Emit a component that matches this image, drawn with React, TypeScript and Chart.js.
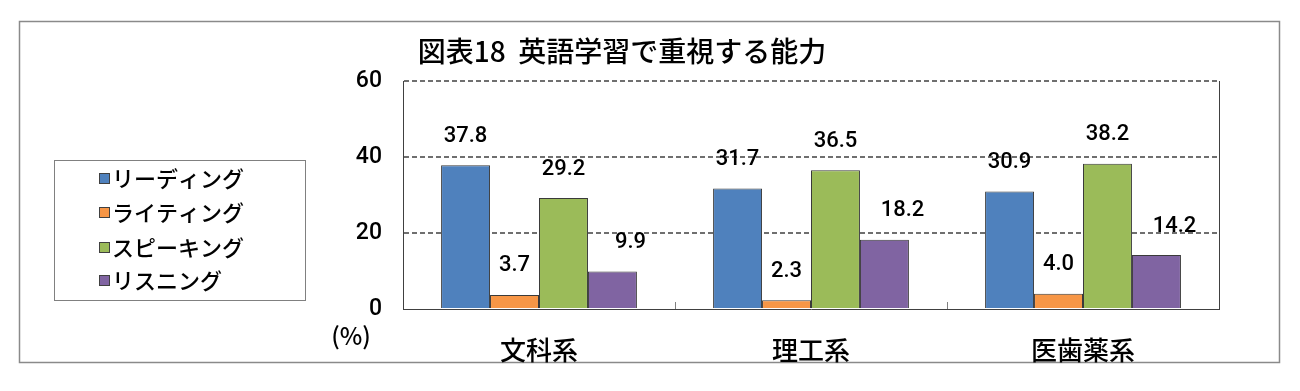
import React, { useEffect, useRef } from "react";
import { Chart, registerables } from "chart.js";

Chart.register(...registerables);

const titleText = "図表18  英語学習で重視する能力";
const categories = ["文科系", "理工系", "医歯薬系"];
const seriesNames = ["リーディング", "ライティング", "スピーキング", "リスニング"];
const reading = [37.8, 31.7, 30.9];
const writing = [3.7, 2.3, 4.0];
const speaking = [29.2, 36.5, 38.2];
const listening = [9.9, 18.2, 14.2];
const yTickValues = [0, 20, 40, 60];
const unitLabel = "(%)";

const seriesValues = [reading, writing, speaking, listening];
const seriesColors = ["#4F81BD", "#F79646", "#9BBB59", "#8064A2"];
const labelShiftX = [0, 0, 0, 18];

const JP = '"Noto Sans CJK JP", "Noto Sans", sans-serif';
const NUM = 'Roboto, "Liberation Sans", sans-serif';

const decorPlugin = {
  id: "decor",
  beforeDraw(chart: any) {
    const ctx = chart.ctx;
    ctx.save();
    ctx.fillStyle = "#ffffff";
    ctx.fillRect(0, 0, chart.width, chart.height);
    ctx.strokeStyle = "#8a8a8a";
    ctx.lineWidth = 1.5;
    ctx.strokeRect(19.5, 21.5, 1260, 341);
    ctx.restore();
  },
  afterDraw(chart: any) {
    const ctx = chart.ctx;
    const area = chart.chartArea;
    const xScale = chart.scales.x;
    ctx.save();
    // right border of plot
    ctx.strokeStyle = "#404040";
    ctx.lineWidth = 1;
    ctx.beginPath();
    ctx.moveTo(Math.round(area.right) + 0.5, area.top);
    ctx.lineTo(Math.round(area.right) + 0.5, area.bottom);
    ctx.stroke();
    // category boundary ticks (inside)
    const n = chart.data.labels.length;
    for (let i = 1; i < n; i++) {
      const xp = Math.round((xScale.getPixelForValue(i - 1) + xScale.getPixelForValue(i)) / 2) + 0.5;
      ctx.beginPath();
      ctx.moveTo(xp, area.bottom);
      ctx.lineTo(xp, area.bottom - 7);
      ctx.strokeStyle = "#808080";
      ctx.stroke();
    }
    // title
    ctx.fillStyle = "#000000";
    ctx.font = `500 28px ${JP}`;
    ctx.textAlign = "center";
    ctx.textBaseline = "middle";
    ctx.fillText(titleText, 622, 51);
    // unit label
    ctx.font = `500 24px ${JP}`;
    ctx.fillText(unitLabel, 351, 336);
    // data labels
    ctx.font = `500 22px ${NUM}`;
    chart.data.datasets.forEach((ds: any, di: number) => {
      const meta = chart.getDatasetMeta(di);
      meta.data.forEach((bar: any, i: number) => {
        const v = ds.data[i];
        ctx.fillText(v.toFixed(1), bar.x + labelShiftX[di], bar.y - 29);
      });
    });
    // legend
    ctx.strokeStyle = "#808080";
    ctx.lineWidth = 1;
    ctx.strokeRect(54.5, 160.5, 251, 140);
    const rows = [178, 212, 247, 280];
    ctx.textAlign = "left";
    ctx.font = `500 22px ${JP}`;
    chart.data.datasets.forEach((ds: any, di: number) => {
      const cy = rows[di];
      ctx.fillStyle = ds.backgroundColor;
      ctx.fillRect(99, cy - 5, 10, 10);
      ctx.strokeStyle = "#404040";
      ctx.strokeRect(99.5, cy - 4.5, 10, 10);
      ctx.fillStyle = "#000000";
      ctx.fillText(ds.label, 112, cy + 1);
    });
    ctx.restore();
  },
};

export default function App() {
  const canvasRef = useRef<HTMLCanvasElement | null>(null);

  useEffect(() => {
    const canvas = canvasRef.current;
    if (!canvas) return;
    const chart = new Chart(canvas, {
      type: "bar",
      data: {
        labels: categories,
        datasets: seriesNames.map((name, i) => ({
          label: name,
          data: seriesValues[i],
          backgroundColor: seriesColors[i],
          borderColor: "#3a3a3a",
          borderWidth: 1,
          barPercentage: 1,
          categoryPercentage: 0.72,
        })),
      },
      options: {
        responsive: false,
        animation: false,
        devicePixelRatio: 1,
        layout: { padding: { left: 300, right: 81, top: 81, bottom: 0 } },
        plugins: {
          legend: { display: false },
          title: { display: false },
          tooltip: { enabled: false },
        },
        scales: {
          x: {
            afterFit: (s: any) => {
              s.height = 82;
            },
            grid: { display: false },
            border: { display: true, color: "#404040", width: 1 },
            ticks: { color: "#000000", font: { family: JP, size: 26, weight: "500" }, padding: 18 },
          },
          y: {
            min: 0,
            max: 60,
            afterFit: (s: any) => {
              s.width = 103;
            },
            afterBuildTicks: (s: any) => {
              s.ticks = yTickValues.map((v) => ({ value: v }));
            },
            grid: {
              color: (c: any) => (c.tick && c.tick.value === 0 ? "rgba(0,0,0,0)" : "#6f6f6f"),
              lineWidth: 2,
              drawTicks: false,
            },
            border: { display: true, color: "#404040", width: 1, dash: [5, 3] },
            ticks: { color: "#000000", font: { family: NUM, size: 23, weight: "500" }, padding: 21 },
          },
        },
      },
      plugins: [decorPlugin],
    });
    return () => chart.destroy();
  }, []);

  return (
    <div style={{ position: "fixed", left: 0, top: 0, width: 1300, height: 391, background: "#fff" }}>
      <canvas ref={canvasRef} width={1300} height={391} style={{ display: "block" }} />
    </div>
  );
}
